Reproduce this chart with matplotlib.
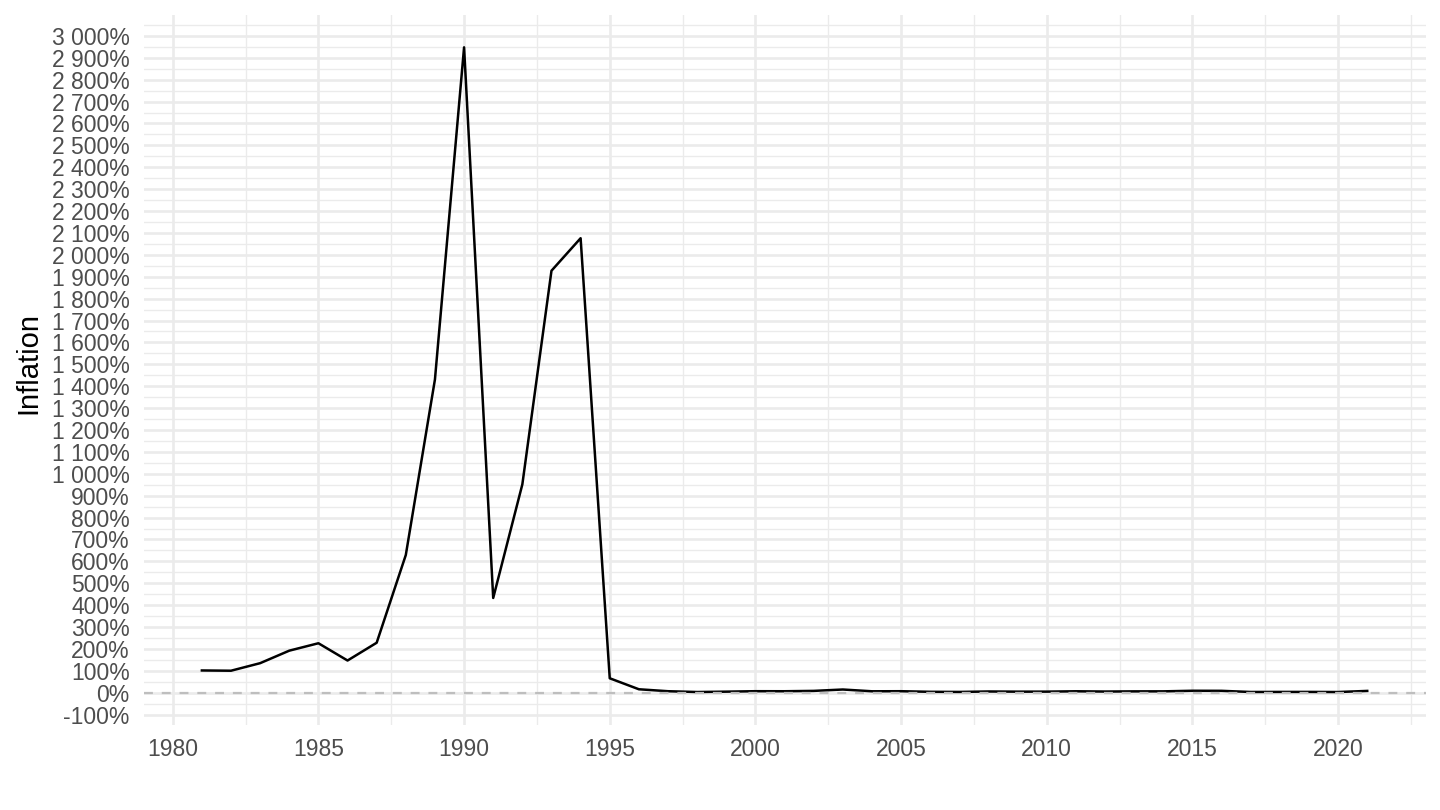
import matplotlib.pyplot as plt
from matplotlib.ticker import MultipleLocator, FuncFormatter

# inflation annuelle (%) - lecture du graphique
years = list(range(1981, 2022))
inflation = [101.7, 100.5, 135.0, 192.1, 226.0, 147.1, 228.3, 629.1, 1430.7, 2947.7,
             432.8, 951.6, 1927.4, 2075.9, 66.0, 15.8, 6.9, 3.2, 4.9, 7.0,
             6.8, 8.4, 14.7, 6.6, 6.9, 4.2, 3.6, 5.7, 4.9, 5.0,
             6.6, 5.4, 6.2, 6.3, 9.0, 8.7, 3.4, 3.7, 3.7, 3.2, 8.3]

grid_col = "#EBEBEB"
text_col = "#4D4D4D"

plt.rcParams["font.family"] = ["Liberation Sans", "DejaVu Sans"]

fig = plt.figure(figsize=(14.4, 8.1), dpi=100)
ax = fig.add_axes([143.6 / 1440, 1 - 725 / 810, (1425.5 - 143.6) / 1440, 710 / 810])

ax.plot(years, inflation, color="black", linewidth=1.8, zorder=3)
ax.axhline(0, color="#BEBEBE", linewidth=1.6, linestyle=(0, (4, 4)), zorder=4)

ax.set_xlim(1979, 2023)
ax.set_ylim(-147.4, 3095.4)

ax.xaxis.set_major_locator(MultipleLocator(5))
ax.xaxis.set_minor_locator(MultipleLocator(2.5))
ax.yaxis.set_major_locator(MultipleLocator(100))
ax.yaxis.set_minor_locator(MultipleLocator(50))

def pct(v, pos):
    return f"{v:,.0f}%".replace(",", " ")

ax.yaxis.set_major_formatter(FuncFormatter(pct))

ax.grid(which="major", color=grid_col, linewidth=1.9, zorder=0)
ax.grid(which="minor", color=grid_col, linewidth=0.95, zorder=0)
ax.set_axisbelow(True)

for s in ax.spines.values():
    s.set_visible(False)

ax.tick_params(which="both", length=0)
ax.tick_params(axis="y", labelsize=16.5, labelcolor=text_col, pad=10)
ax.tick_params(axis="x", labelsize=16.5, labelcolor=text_col, pad=9)

ax.set_ylabel("Inflation", fontsize=21, color="black")
ax.yaxis.set_label_coords(-0.079, 0.51)

fig.savefig("out.png", dpi=100)
